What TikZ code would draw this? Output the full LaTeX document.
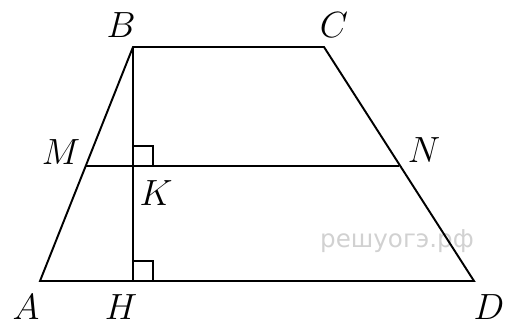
\documentclass[tikz,border=0pt]{standalone}
\usepackage{fontspec}
\newfontfamily\wmfont{DejaVu Sans}
\usepackage{tikz}
\usetikzlibrary{calc}

\begin{document}
\begin{tikzpicture}[x=0.02cm, y=-0.02cm, line width=1.1pt,
  lbl/.style={font=\fontsize{21.5}{25}\selectfont, inner sep=0pt}]

\useasboundingbox (0,0) rectangle (510,327);

\coordinate (A) at (40,281);
\coordinate (B) at (133,47);
\coordinate (C) at (324,47);
\coordinate (D) at (474,281);
\coordinate (M) at (86,166);
\coordinate (N) at (399,166);
\coordinate (K) at (133,166);
\coordinate (H) at (133,281);

\node[text=black!18, font=\wmfont\fontsize{14}{16}\selectfont] (wm) at (397,241) {решуогэ.рф};

\draw (A) -- (B) -- (C) -- (D) -- cycle;
\draw (M) -- (N);
\draw (B) -- (H);
\draw[line width=0.9pt] ($(K)+(0,-20)$) -- ++(20,0) -- ++(0,20);
\draw[line width=0.9pt] ($(H)+(0,-20)$) -- ++(20,0) -- ++(0,20);

\node[lbl] (lA) at (26,307) {$A$};
\node[lbl] (lB) at (121,25) {$B$};
\node[lbl] (lC) at (334,25) {$C$};
\node[lbl] (lD) at (489,307) {$D$};
\node[lbl] (lM) at (61,152) {$M$};
\node[lbl] (lN) at (424,150) {$N$};
\node[lbl] (lK) at (156,193) {$K$};
\node[lbl] (lH) at (121,307) {$H$};

\end{tikzpicture}
\end{document}
